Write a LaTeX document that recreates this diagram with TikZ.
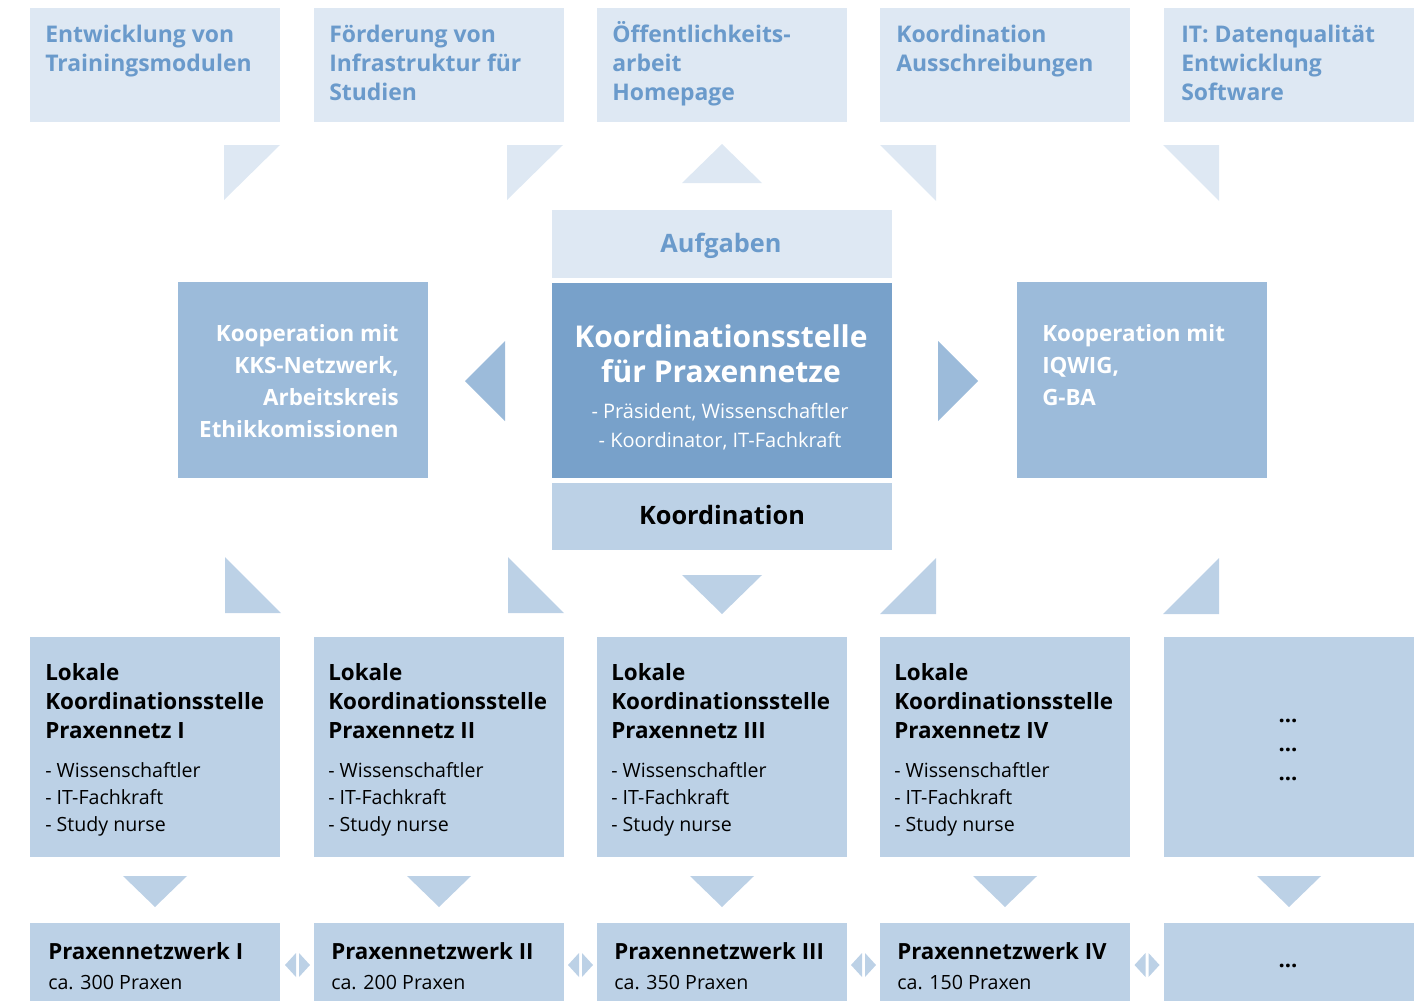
\documentclass[tikz,border=0pt]{standalone}
\usepackage{fontspec}
\setmainfont{Open Sans}
\definecolor{cLight}{HTML}{DEE8F3}
\definecolor{cMid}{HTML}{BCD1E6}
\definecolor{cSide}{HTML}{9CBBDA}
\definecolor{cCenter}{HTML}{78A1CA}
\definecolor{cBlueText}{HTML}{6A9ACB}
\tikzset{
  cell/.style={fill=#1, draw=none, inner sep=0pt, outer sep=0pt},
  colbox/.style={cell=#1, minimum width=187.5pt},
  midbox/.style={cell=#1, minimum width=255pt},
  toptext/.style={font=\fontsize{17.2}{21.75}\selectfont\bfseries, text=cBlueText, align=left, anchor=north west, inner sep=0pt},
  sidetext/.style={font=\fontsize{16.8}{24}\selectfont\bfseries, text=white, inner sep=0pt},
  loktitle/.style={font=\fontsize{16.8}{21.75}\selectfont\bfseries, text=black, align=left, anchor=north west, inner sep=0pt},
  lokitems/.style={font=\fontsize{14.7}{20.25}\selectfont, text=black, align=left, anchor=north west, inner sep=0pt},
  nettitle/.style={font=\fontsize{16.7}{21.75}\selectfont\bfseries, text=black, anchor=base west, inner sep=0pt},
  netsub/.style={font=\fontsize{14.7}{20.25}\selectfont, text=black, anchor=base west, inner sep=0pt},
  tri/.style={fill=#1, draw=none},
}
\begin{document}
\begin{tikzpicture}[x=0.75pt,y=-0.75pt]
\useasboundingbox (0,0) rectangle (1421,1000);

% ---------- top row ----------
\node[colbox=cLight, minimum height=85.5pt] (t1) at (155,65) {};
\node[colbox=cLight, minimum height=85.5pt] (t2) at (439,65) {};
\node[colbox=cLight, minimum height=85.5pt] (t3) at (722,65) {};
\node[colbox=cLight, minimum height=85.5pt] (t4) at (1005,65) {};
\node[colbox=cLight, minimum height=85.5pt] (t5) at (1289,65) {};
\node[toptext] (t1txt) at (45,21.5) {\strut Entwicklung von\\Trainingsmodulen};
\node[toptext] (t2txt) at (329,21.5) {\strut Förderung von\\Infrastruktur für\\Studien};
\node[toptext] (t3txt) at (612,21.5) {\strut Öffentlichkeits-\\arbeit\\Homepage};
\node[toptext] (t4txt) at (896,21.5) {\strut Koordination\\Ausschreibungen};
\node[toptext] (t5txt) at (1181,21.5) {\strut IT: Datenqualität\\Entwicklung\\Software};

% top triangles
\fill[tri=cLight] (224,145) -- (280,145) -- (224,200) -- cycle;
\fill[tri=cLight] (507,145) -- (563,145) -- (507,200) -- cycle;
\fill[tri=cLight] (682,183) -- (762,183) -- (722,144) -- cycle;
\fill[tri=cLight] (880,145) -- (936,145) -- (936,201) -- cycle;
\fill[tri=cLight] (1163,145) -- (1219,145) -- (1219,201) -- cycle;

% ---------- centre ----------
\node[midbox=cLight, minimum height=51pt] (aufg) at (722,244) {};
\node[font=\fontsize{19}{22}\selectfont\bfseries, text=cBlueText, anchor=base, inner sep=0pt] (aufgtxt) at (721,252.5) {Aufgaben};
\node[midbox=cCenter, minimum height=146.25pt] (center) at (722,380.5) {};
\node[font=\fontsize{22.5}{26.25}\selectfont\bfseries, text=white, align=center, anchor=north, inner sep=0pt] (ctitle) at (721,322.5) {\strut Koordinationsstelle\\für Praxennetze};
\node[font=\fontsize{15}{21.75}\selectfont, text=white, align=center, anchor=north, inner sep=0pt] (csub) at (720,397.7) {\strut - Präsident, Wissenschaftler\\- Koordinator, IT-Fachkraft};
\node[midbox=cMid, minimum height=50.25pt] (koord) at (722,516.5) {};
\node[font=\fontsize{19}{22}\selectfont\bfseries, text=black, anchor=base, inner sep=0pt] (koordtxt) at (722,524) {Koordination};

% side boxes
\node[colbox=cSide, minimum height=147pt] (left) at (303,380) {};
\node[sidetext, align=right, anchor=north east] (lefttxt) at (399,318.6) {\strut Kooperation mit\\KKS-Netzwerk,\\Arbeitskreis\\Ethikkomissionen};
\node[colbox=cSide, minimum height=147pt] (right) at (1142,380) {};
\node[sidetext, align=left, anchor=north west] (righttxt) at (1042,318.6) {\strut Kooperation mit\\IQWIG,\\G-BA};

\fill[tri=cSide] (465,381) -- (505,341) -- (505,421) -- cycle;
\fill[tri=cSide] (938,341) -- (978,381) -- (938,421) -- cycle;

% lower triangles
\fill[tri=cMid] (225,557) -- (225,613) -- (281,613) -- cycle;
\fill[tri=cMid] (508,557) -- (508,613) -- (564,613) -- cycle;
\fill[tri=cMid] (682,575) -- (762,575) -- (722,614) -- cycle;
\fill[tri=cMid] (880,614) -- (936,614) -- (936,558) -- cycle;
\fill[tri=cMid] (1163,614) -- (1219,614) -- (1219,558) -- cycle;

% ---------- local coordination ----------
\node[colbox=cMid, minimum height=165pt] (l1) at (155,747) {};
\node[colbox=cMid, minimum height=165pt] (l2) at (439,747) {};
\node[colbox=cMid, minimum height=165pt] (l3) at (722,747) {};
\node[colbox=cMid, minimum height=165pt] (l4) at (1005,747) {};
\node[colbox=cMid, minimum height=165pt] (l5) at (1289,747) {};

\node[loktitle] (l1t) at (45,659.7) {\strut Lokale\\Koordinationsstelle\\Praxennetz I};
\node[loktitle] (l2t) at (328,659.7) {\strut Lokale\\Koordinationsstelle\\Praxennetz II};
\node[loktitle] (l3t) at (611,659.7) {\strut Lokale\\Koordinationsstelle\\Praxennetz III};
\node[loktitle] (l4t) at (894,659.7) {\strut Lokale\\Koordinationsstelle\\Praxennetz IV};
\node[lokitems] (l1i) at (45,758) {\strut - Wissenschaftler\\- IT-Fachkraft\\- Study nurse};
\node[lokitems] (l2i) at (328,758) {\strut - Wissenschaftler\\- IT-Fachkraft\\- Study nurse};
\node[lokitems] (l3i) at (611,758) {\strut - Wissenschaftler\\- IT-Fachkraft\\- Study nurse};
\node[lokitems] (l4i) at (894,758) {\strut - Wissenschaftler\\- IT-Fachkraft\\- Study nurse};
\node[font=\fontsize{16.5}{21.75}\selectfont\bfseries, align=center, anchor=north, inner sep=0pt] (l5t) at (1288,701.7) {\strut ...\\...\\...};

% down triangles
\foreach \cx in {155,439,722,1005,1289}
  \fill[tri=cMid] (\cx-32,876) -- (\cx+32,876) -- (\cx,907) -- cycle;

% ---------- networks ----------
\node[colbox=cMid, minimum height=61.5pt] (n1) at (155,964) {};
\node[colbox=cMid, minimum height=61.5pt] (n2) at (439,964) {};
\node[colbox=cMid, minimum height=61.5pt] (n3) at (722,964) {};
\node[colbox=cMid, minimum height=61.5pt] (n4) at (1005,964) {};
\node[colbox=cMid, minimum height=61.5pt] (n5) at (1289,964) {};
\node[nettitle] (n1t) at (48,959) {Praxennetzwerk I};
\node[nettitle] (n2t) at (331,959) {Praxennetzwerk II};
\node[nettitle] (n3t) at (614,959) {Praxennetzwerk III};
\node[nettitle] (n4t) at (897,959) {Praxennetzwerk IV};
\node[netsub] (n1s) at (48,989) {ca. 300 Praxen};
\node[netsub] (n2s) at (331,989) {ca. 200 Praxen};
\node[netsub] (n3s) at (614,989) {ca. 350 Praxen};
\node[netsub] (n4s) at (897,989) {ca. 150 Praxen};
\node[font=\fontsize{16.5}{21.75}\selectfont\bfseries, anchor=base, inner sep=0pt] (n5t) at (1288,967) {...};

% small double arrows
\foreach \cx in {297.5,580.5,863.5,1147}
{
  \fill[tri=cMid] (\cx-12.5,965) -- (\cx-1.5,953) -- (\cx-1.5,977) -- cycle;
  \fill[tri=cMid] (\cx+1.5,953) -- (\cx+12.5,965) -- (\cx+1.5,977) -- cycle;
}
\end{tikzpicture}
\end{document}
